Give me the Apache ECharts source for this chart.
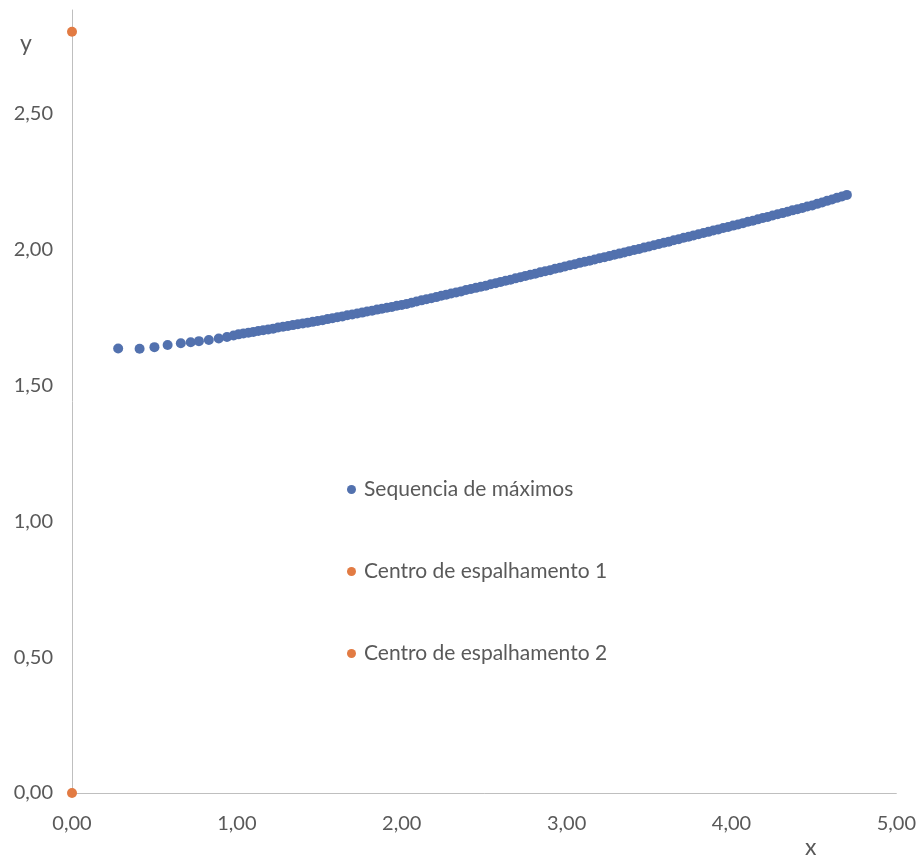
<!DOCTYPE html>
<html>
<head>
<meta charset="utf-8">
<script src="https://cdn.jsdelivr.net/npm/echarts@6/dist/echarts.min.js"></script>
<style>html,body{margin:0;padding:0;background:#fff;}#c{width:919px;height:857px;}</style>
</head>
<body>
<div id="c"></div>
<script>
const seriesNames = ['Sequencia de máximos', 'Centro de espalhamento 1', 'Centro de espalhamento 2'];
const maxX = [0.28,0.41,0.50,0.58,0.66,0.72,0.77,0.83,0.89,0.94,
0.98,1.01,1.04,1.07,1.10,1.13,1.16,1.19,1.22,1.25,
1.28,1.31,1.34,1.37,1.40,1.43,1.46,1.49,1.52,1.55,
1.58,1.61,1.64,1.67,1.70,1.73,1.76,1.79,1.82,1.85,
1.88,1.91,1.94,1.97,2.00,2.03,2.06,2.09,2.12,2.15,
2.18,2.21,2.24,2.27,2.30,2.33,2.36,2.39,2.42,2.45,
2.48,2.51,2.54,2.57,2.60,2.63,2.66,2.69,2.72,2.75,
2.78,2.81,2.84,2.87,2.90,2.93,2.96,2.99,3.02,3.05,
3.08,3.11,3.14,3.17,3.20,3.23,3.26,3.29,3.32,3.35,
3.38,3.41,3.44,3.47,3.50,3.53,3.56,3.59,3.62,3.65,
3.68,3.71,3.74,3.77,3.80,3.83,3.86,3.89,3.92,3.95,
3.98,4.01,4.04,4.07,4.10,4.13,4.16,4.19,4.22,4.25,
4.28,4.31,4.34,4.37,4.40,4.43,4.46,4.49,4.52,4.55,
4.58,4.61,4.64,4.67,4.70];
const maxY = [1.635,1.634,1.640,1.648,1.654,1.658,1.662,1.666,1.672,1.677,
1.683,1.687,1.690,1.693,1.696,1.699,1.702,1.705,1.708,1.712,
1.715,1.718,1.721,1.724,1.727,1.730,1.733,1.736,1.739,1.743,
1.746,1.750,1.753,1.757,1.760,1.764,1.767,1.771,1.774,1.778,
1.781,1.785,1.788,1.792,1.795,1.799,1.803,1.808,1.812,1.816,
1.820,1.824,1.829,1.833,1.837,1.841,1.845,1.850,1.854,1.858,
1.862,1.866,1.871,1.875,1.880,1.884,1.888,1.893,1.897,1.902,
1.906,1.910,1.915,1.919,1.923,1.928,1.932,1.937,1.941,1.945,
1.950,1.954,1.958,1.962,1.967,1.971,1.975,1.980,1.984,1.988,
1.993,1.997,2.001,2.006,2.010,2.015,2.019,2.024,2.028,2.033,
2.037,2.042,2.046,2.051,2.055,2.060,2.064,2.069,2.073,2.078,
2.082,2.087,2.091,2.096,2.101,2.105,2.110,2.115,2.119,2.124,
2.129,2.133,2.138,2.143,2.147,2.152,2.157,2.161,2.167,2.172,
2.178,2.183,2.189,2.194,2.200];
const centro1 = [0, 0];
const centro2 = [0, 2.80];
const xTicks = [0, 1, 2, 3, 4, 5];
const yTicks = [0, 0.5, 1, 1.5, 2, 2.5];

const fmt = v => v.toFixed(2).replace('.', ',');
const FONT = 'Lato, "Open Sans", sans-serif';
const chart = echarts.init(document.getElementById('c'));
chart.setOption({
  animation: false,
  backgroundColor: '#ffffff',
  grid: { left: 72, right: 22, top: 10, bottom: 64, containLabel: false },
  xAxis: {
    type: 'value', min: xTicks[0], max: xTicks[xTicks.length - 1], interval: 1,
    axisLine: { show: true, onZero: false, lineStyle: { color: '#bfbfbf', width: 1 } },
    axisTick: { show: false },
    splitLine: { show: false },
    axisLabel: { color: '#595959', fontSize: 20, fontFamily: FONT, margin: 21, formatter: fmt }
  },
  yAxis: {
    type: 'value', min: yTicks[0], max: 2.88, interval: 0.5,
    axisLine: { show: true, onZero: false, lineStyle: { color: '#bfbfbf', width: 1 } },
    axisTick: { show: false },
    splitLine: { show: false },
    axisLabel: { color: '#595959', fontSize: 20, fontFamily: FONT, margin: 19, formatter: fmt, showMaxLabel: false }
  },
  legend: {
    orient: 'vertical', left: 342, top: 474, itemGap: 61,
    icon: 'circle', itemWidth: 9, itemHeight: 9,
    textStyle: { color: '#595959', fontSize: 21, fontFamily: FONT, padding: [0, 0, 0, 3] },
    data: seriesNames
  },
  graphic: [
    { type: 'text', left: 20, top: 32, style: { text: 'y', fill: '#595959', font: '23px ' + FONT } },
    { type: 'text', left: 805, top: 836, style: { text: 'x', fill: '#595959', font: '23px ' + FONT } }
  ],
  series: [
    { name: seriesNames[0], type: 'scatter', symbolSize: 10, itemStyle: { color: '#5271AE', opacity: 1 },
      data: maxX.map((x, i) => [x, maxY[i]]) },
    { name: seriesNames[1], type: 'scatter', symbolSize: 10, itemStyle: { color: '#E27B43', opacity: 1 }, data: [centro1] },
    { name: seriesNames[2], type: 'scatter', symbolSize: 10, itemStyle: { color: '#E27B43', opacity: 1 }, data: [centro2] }
  ]
});
</script>
</body>
</html>
